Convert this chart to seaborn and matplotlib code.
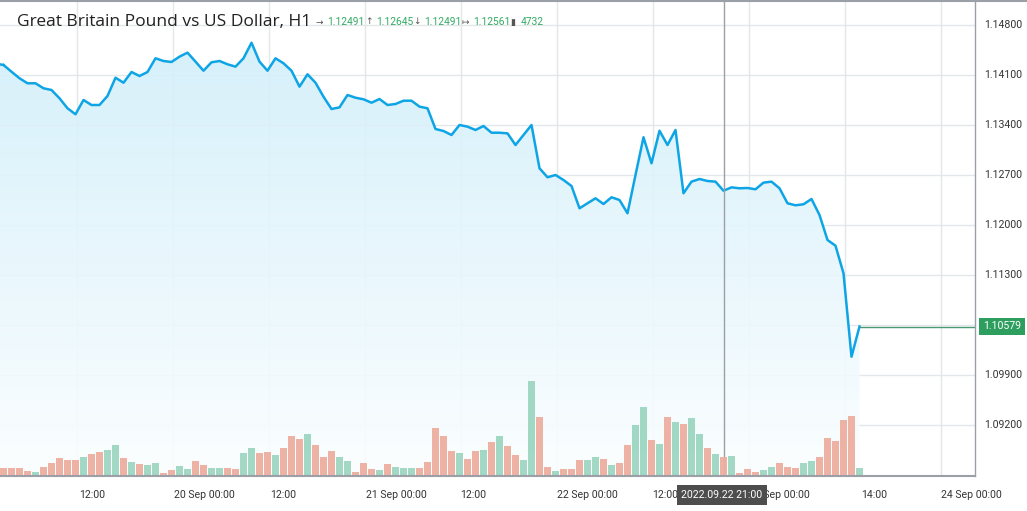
import numpy as np
import pandas as pd
import matplotlib
matplotlib.use("Agg")
import matplotlib.pyplot as plt
import seaborn as sns

close = [1.1424,1.14146,1.14054,1.13984,1.13984,1.13914,1.1389,1.13774,1.13634,1.1355,
         1.1375,1.1368,1.1368,1.13806,1.14062,1.13992,1.14142,1.14086,1.14142,1.14334,
         1.14296,1.14282,1.14357,1.14413,1.14287,1.1416,1.14278,1.14296,1.1425,1.14217,
         1.14334,1.14552,1.14287,1.1416,1.14334,1.14264,1.1416,1.13937,1.1411,1.13992,
         1.13796,1.13624,1.13647,1.1382,1.13782,1.1376,1.13712,1.13764,1.1368,1.13694,
         1.1374,1.1374,1.13657,1.13634,1.13344,1.13316,1.1326,1.134,1.13377,1.1333,
         1.13386,1.13292,1.13292,1.13283,1.1312,1.1326,1.134,1.12794,1.12668,1.127,
         1.1263,1.12546,1.12234,1.12304,1.12374,1.12294,1.12388,1.1235,1.12164,1.127,
         1.13228,1.12864,1.1332,1.1312,1.1333,1.12444,1.12607,1.12644,1.12616,1.12607,
         1.1248,1.12527,1.12514,1.12518,1.125,1.12593,1.12607,1.12514,1.12304,1.12276,
         1.1229,1.12364,1.1214,1.1179,1.1171,1.11324,1.10156,1.10579]
volume = [1990,1990,1990,1245,995,2240,3240,4480,3980,3980,
          4730,5480,5980,6470,7720,4480,3490,2990,2740,3240,
          750,1490,2490,1740,3740,2740,1990,1990,1990,1740,
          5730,6970,5730,5980,5230,6970,9960,9210,10460,7720,
          4730,6230,4730,3740,995,3240,1740,1490,2990,2240,
          1990,1990,1990,3490,11950,9960,6230,5730,4230,6230,
          6470,8470,9960,7470,5230,3980,23650,14690,2240,1245,
          1740,1740,3980,3980,4730,4230,2740,3240,7720,12700,
          17180,8960,7970,14690,13450,12950,14440,10460,6970,5480,
          4732,4980,750,1740,995,1490,2240,3240,2240,1990,
          3240,3740,4730,9460,8720,13940,14940,1990]
direction = ["down","down","down","down","up","down","down","down","down","down",
             "up","down","down","up","up","down","up","down","up","up",
             "down","down","up","up","down","down","up","up","down","down",
             "up","up","down","down","up","down","down","down","up","down",
             "down","down","up","up","down","down","down","up","down","up",
             "up","up","down","down","down","down","down","up","down","down",
             "up","down","up","down","down","up","up","down","down","up",
             "down","down","down","up","up","down","up","down","down","up",
             "up","down","up","down","up","down","up","up","down","up",
             "down","up","down","down","down","up","up","down","down","down",
             "up","up","down","down","down","down","down","up"]
y_ticks = [1.14800,1.14100,1.13400,1.12700,1.12000,1.11300,1.10600,1.09900,1.09200]
x_labels = ["12:00","20 Sep 00:00","12:00","21 Sep 00:00","12:00","22 Sep 00:00","12:00","23 Sep 00:00","14:00","24 Sep 00:00"]
x_label_px = [92,204,283,396,473,587,665,779,874,971]
title = "Great Britain Pound vs US Dollar, H1"
ohlc = ["1.12491","1.12645","1.12491","1.12561","4732"]
last_price = 1.10579

W, H = 1027, 511
FONT = "Roboto"
fig = plt.figure(figsize=(W/100, H/100), dpi=100)
ax = fig.add_axes([0, 1-476/H, 975/W, 476/H])
idx = np.arange(len(close))
px2i = lambda x: (x-3.5)/8
ax.set_xlim(px2i(0), px2i(975))
ylo = 1.148 - 451*0.00014; yhi = 1.148 + 25*0.00014
ax.set_ylim(ylo, yhi)

for k in range(10):
    ax.axvline(px2i(77+96*k), color="#e3e6ea", lw=1, zorder=0)
for t in y_ticks:
    ax.axhline(t, color="#e3e6ea", lw=1, zorder=0)

grad = np.linspace(0, 1, 256).reshape(-1, 1)
cmap = matplotlib.colors.LinearSegmentedColormap.from_list("g", ["#fbfeff", "#d2effa"])
im = ax.imshow(grad, extent=[idx[0]-0.5, idx[-1], ylo, max(close)], origin="lower",
               cmap=cmap, aspect="auto", zorder=1, alpha=0.9)
poly = ax.fill_between(np.r_[-0.5, idx], np.r_[close[0], close], ylo, color="none")
im.set_clip_path(poly.get_paths()[0], transform=ax.transData)

df = pd.DataFrame({"i": idx, "close": close})
sns.lineplot(data=df, x="i", y="close", ax=ax, color="#0ea5e6", lw=1.8, zorder=4)
ax.plot([-0.5, 0], [close[0]+0.0001, close[0]], color="#0ea5e6", lw=1.8, zorder=4)
ax.plot([idx[-1], px2i(975)], [last_price]*2, color="#4a9a72", lw=1, zorder=4)

axv = ax.twinx()
axv.set_ylim(0, 476*249)
vdf = pd.DataFrame({"i": idx, "v": volume, "d": direction})
sns.barplot(data=vdf, x="i", y="v", hue="d", native_scale=True, ax=axv,
            palette={"up": "#94dfc4", "down": "#fba692"}, width=0.875,
            legend=False, dodge=False, alpha=0.95, edgecolor="none")
axv.set_xlim(ax.get_xlim())
for a in (ax, axv):
    a.set_xticks([]); a.set_yticks([]); a.set_xlabel(""); a.set_ylabel("")
    for s in a.spines.values():
        s.set_visible(False)
ax.patch.set_alpha(0)

ax.axvline(px2i(724), color="#9aa0a6", lw=1, zorder=5)

fig.add_artist(plt.Line2D([0, 975/W], [1-476/H]*2, color="#9aa0a6", lw=1.5))
fig.add_artist(plt.Line2D([975/W]*2, [1-476/H, 1], color="#9aa0a6", lw=1))
fig.add_artist(plt.Line2D([0, 1], [1-1/H]*2, color="#9aa0a6", lw=1.5))

fs = 7.6
for t in y_ticks:
    ax.text(px2i(984), t, f"{t:.5f}", fontsize=fs, color="#333", va="center", ha="left",
            family=FONT, clip_on=False)
ax.text(px2i(983), last_price, f"{last_price:.5f}", fontsize=fs, color="white", va="center",
        ha="left", clip_on=False, zorder=10, family=FONT,
        bbox=dict(boxstyle="square,pad=0.35", fc="#2e9e5f", ec="none"))
for lbl, p in zip(x_labels, x_label_px):
    fig.text(p/W, 1-495/H, lbl, fontsize=fs, color="#333", ha="center", va="center",
             family=FONT, zorder=1)
fig.text(722/W, 1-495/H, "2022.09.22 21:00", fontsize=fs, color="white", ha="center",
         va="center", zorder=10, family=FONT,
         bbox=dict(boxstyle="square,pad=0.45", fc="#4d4d4d", ec="none"))

fig.text(17/W, 1-22/H, title, fontsize=12.5, color="#222", ha="left", va="center", family="Open Sans")
syms = ["→", "↑", "↓", "↦", "▮"]
sym_x = [316, 365, 413, 461, 510]
num_x = [327, 376, 424, 473, 521]
for s, v, xs, xn in zip(syms, ohlc, sym_x, num_x):
    fig.text(xs/W, 1-22/H, s, fontsize=6.5, color="#555", ha="left", va="center", family="DejaVu Sans")
    fig.text(xn/W, 1-22/H, v, fontsize=7.4, color="#2eaa60", ha="left", va="center", family=FONT)

fig.savefig("out.png", dpi=100)
